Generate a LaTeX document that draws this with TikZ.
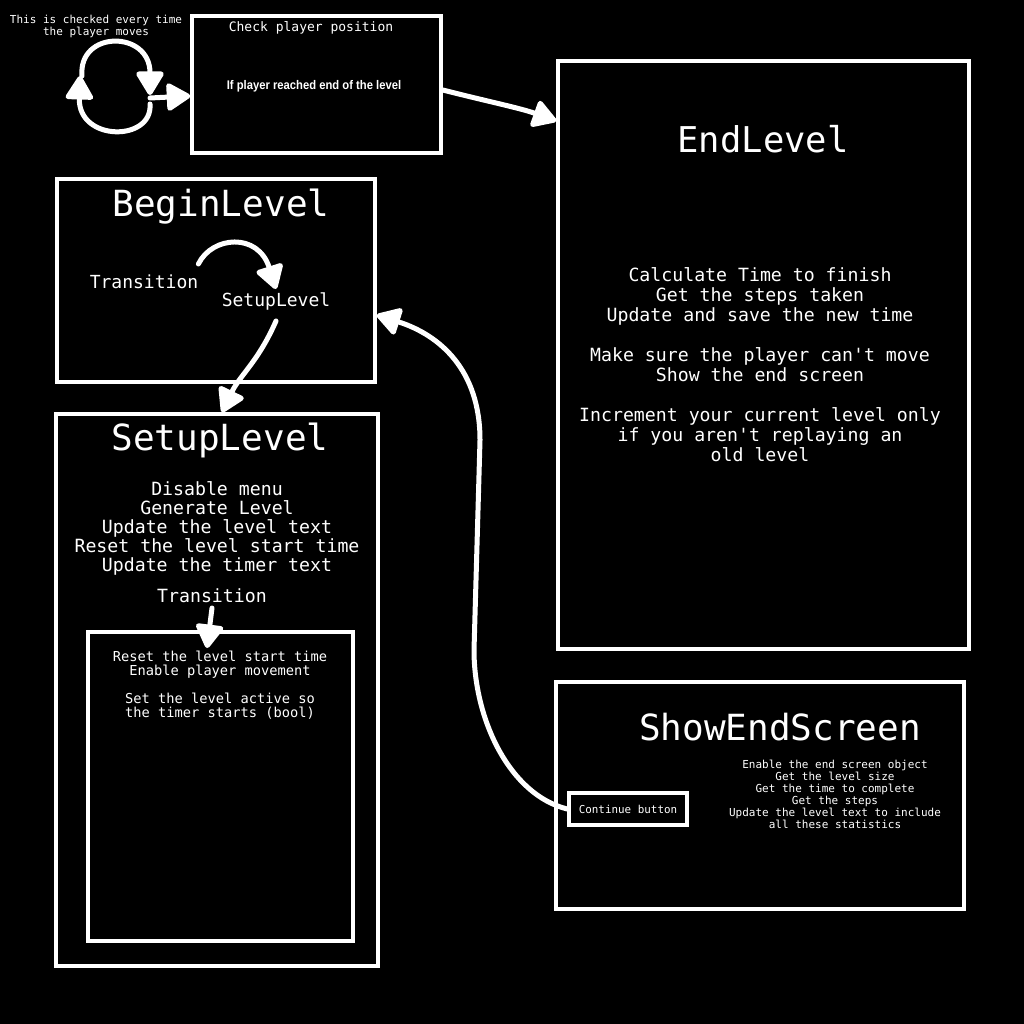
\documentclass[tikz,border=0pt]{standalone}
\usepackage{fontspec}
\usepackage{graphicx}
\setmainfont{DejaVu Sans Mono}[Ligatures=TeXOff]
\newfontfamily\narrowsans{Liberation Sans}
\usetikzlibrary{arrows.meta}
\tikzset{
  box/.style={draw=white, line width=3.5pt, fill=black, minimum width=#1, inner sep=0pt},
  txt/.style={text=white, align=center, inner sep=0pt},
  arr/.style={draw=white, line width=5pt, line cap=round,
    -{Triangle[length=26pt 0 0, width=30pt 0 0, round]}},
}
\newcommand{\fs}[2]{\fontsize{#1pt}{#2pt}\selectfont}
\begin{document}
\begin{tikzpicture}[x=1pt,y=-1pt]
\fill[black] (0,0) rectangle (1024,1024);
\useasboundingbox (0,0) rectangle (1024,1024);

% boxes
\node[box=249pt, minimum height=137pt] (check) at (316.5,84.5) {};
\node[box=411pt, minimum height=588pt] (endlevel) at (763.5,355) {};
\node[box=318pt, minimum height=203pt] (begin) at (216,280.5) {};
\node[box=322pt, minimum height=552pt] (setup) at (217,690) {};
\node[box=265pt, minimum height=309pt] (inner) at (220.5,786.5) {};
\node[box=408pt, minimum height=227pt] (showend) at (760,795.5) {};
\node[box=118pt, minimum height=32pt, font=\fs{10.9}{12}, text=white] (cont) at (628,809) {Continue button};

% texts
\node[txt, font=\fs{11}{12}] (note) at (96,26) {This is checked every time\\the player moves};
\node[txt, font=\fs{13}{14}] (checkt) at (311,28) {Check player position};
\node[txt] (cond) at (314,86) {\scalebox{0.9}[1]{\narrowsans\bfseries\fs{12.5}{14}If player reached end of the level}};

\node[txt, font=\fs{35.5}{40}] (endt) at (763,139) {EndLevel};
\node[txt, font=\fs{18.2}{20}] (endb) at (760,365) {Calculate Time to finish\\Get the steps taken\\Update and save the new time\\[20pt]Make sure the player can't move\\Show the end screen\\[20pt]Increment your current level only\\if you aren't replaying an\\old level};

\node[txt, font=\fs{36}{40}] (begint) at (221,207) {BeginLevel};
\node[txt, font=\fs{18}{20}] (btrans) at (144,282) {Transition};
\node[txt, font=\fs{18}{20}] (bsetup) at (276,301) {SetupLevel};

\node[txt, font=\fs{36}{40}] (setupt) at (220,440) {SetupLevel};
\node[txt, font=\fs{18.2}{19}] (setupb) at (217,528) {Disable menu\\Generate Level\\Update the level text\\Reset the level start time\\Update the timer text};
\node[txt, font=\fs{18.2}{20}] (strans) at (212,596) {Transition};
\node[txt, font=\fs{13.7}{14}] (innerb) at (220,685) {Reset the level start time\\Enable player movement\\[14pt]Set the level active so\\the timer starts (bool)};

\node[txt, font=\fs{36}{40}] (showt) at (780,727) {ShowEndScreen};
\node[txt, font=\fs{11}{12}] (showb) at (835,794) {Enable the end screen object\\Get the level size\\Get the time to complete\\Get the steps\\Update the level text to include\\all these statistics};

% loop arrows
\coordinate (l1) at (82,76);
\coordinate (l2) at (150,95);
\coordinate (l3) at (150,104);
\coordinate (l4) at (80,76);
\draw[arr] (l1) .. controls (78,30) and (150,30) .. (l2);
\draw[arr] (l3) .. controls (153,142) and (78,142) .. (l4);
\coordinate (l5) at (150,98);
\draw[arr] (l5) -- (check.west |- 0,96);

% check -> endlevel
\draw[arr] (check.east |- 0,90) .. controls (490,102) and (520,108) .. (endlevel.west |- 0,121);

% begin inner
\draw[arr] (btrans.east |- 0,264) .. controls (212,236) and (258,232) .. (bsetup.north |- 0,289);

% setuplevel -> setup box
\draw[arr] (bsetup.south |- 0,321) .. controls (258,362) and (240,375) .. (setup.north -| 222,0);

% transition -> inner
\draw[arr] (strans.south |- 0,608) -- (207,648);

% continue -> begin
\draw[arr] (cont.west) .. controls (510,795) and (474,720) .. (474,650) -- (480,440) .. controls (480,370) and (440,335) .. (begin.east |- 0,315);
\end{tikzpicture}
\end{document}
